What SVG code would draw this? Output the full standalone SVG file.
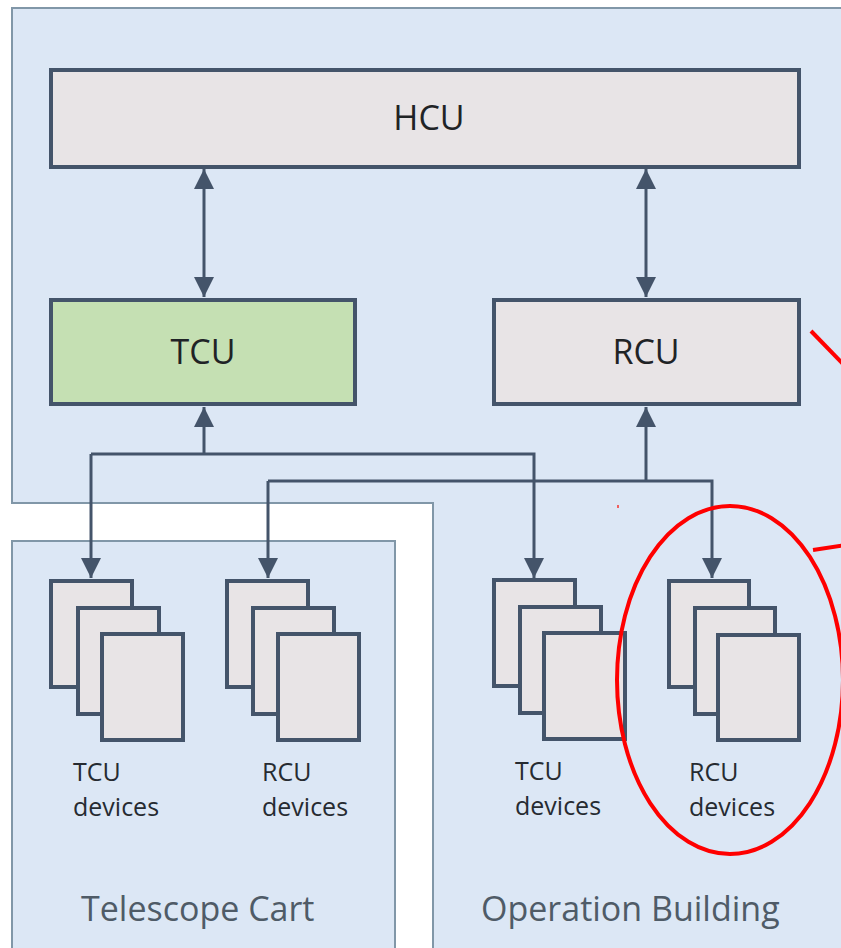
<svg xmlns="http://www.w3.org/2000/svg" width="841" height="948" viewBox="0 0 841 948">
  <defs>
    <style>
      .region { fill: #dce7f5; stroke: #8197a8; stroke-width: 2; }
      .box { fill: #e8e4e6; stroke: #44546a; stroke-width: 4; }
      .green { fill: #c5e0b3; }
      .conn { fill: none; stroke: #44546a; stroke-width: 3; }
      .label { font-family: "Open Sans", "Noto Sans", sans-serif; fill: #1f2326; }
      .node-title { font-size: 34px; text-anchor: middle; }
      .dev { font-size: 25px; fill: #262b31; }
      .area { font-family: "Open Sans", "Noto Sans", sans-serif; font-size: 34px; fill: #4f5b67; }
      .red { fill: none; stroke: #ff0000; stroke-width: 4; }
    </style>
    <marker id="arrow" viewBox="0 0 20 20" refX="20" refY="10" markerWidth="20" markerHeight="20" markerUnits="userSpaceOnUse" orient="auto-start-reverse">
      <path d="M0,0 L20,10 L0,20 Z" fill="#44546a"/>
    </marker>
  </defs>

  <rect x="0" y="0" width="841" height="948" fill="#ffffff"/>

  <g id="regions">
    <path class="region" d="M12,8 H852 V960 H433 V503 H12 Z"/>
    <rect class="region" x="12" y="541" width="383" height="420"/>
    <text class="area" x="81" y="921">Telescope Cart</text>
    <text class="area" x="481" y="921">Operation Building</text>
  </g>

  <g id="connectors">
    <path class="conn" d="M204,169 V297" marker-start="url(#arrow)" marker-end="url(#arrow)"/>
    <path class="conn" d="M646,169 V297" marker-start="url(#arrow)" marker-end="url(#arrow)"/>
    <path class="conn" d="M204,454 V407" marker-end="url(#arrow)"/>
    <path class="conn" d="M91,454 H534 V578"  marker-end="url(#arrow)"/>
    <path class="conn" d="M91,454 V578" marker-end="url(#arrow)"/>
    <path class="conn" d="M646,481 V407" marker-end="url(#arrow)"/>
    <path class="conn" d="M268,481 H712 V578" marker-end="url(#arrow)"/>
    <path class="conn" d="M268,481 V578" marker-end="url(#arrow)"/>
  </g>

  <g id="HCU">
    <rect class="box" x="51" y="70" width="748" height="97"/>
    <text class="label node-title" x="429" y="130">HCU</text>
  </g>
  <g id="TCU">
    <rect class="box green" x="51" y="300" width="304" height="104"/>
    <text class="label node-title" x="203" y="364">TCU</text>
  </g>
  <g id="RCU">
    <rect class="box" x="494" y="300" width="305" height="104"/>
    <text class="label node-title" x="646" y="364">RCU</text>
  </g>

  <g id="cart-tcu-devices">
    <rect class="box" x="51" y="581" width="81" height="106"/>
    <rect class="box" x="78" y="608" width="81" height="106"/>
    <rect class="box" x="102" y="634" width="81" height="106"/>
    <text class="label dev" x="73" y="781">TCU</text>
    <text class="label dev" x="73" y="816">devices</text>
  </g>
  <g id="cart-rcu-devices">
    <rect class="box" x="227" y="581" width="81" height="106"/>
    <rect class="box" x="253" y="608" width="81" height="106"/>
    <rect class="box" x="278" y="634" width="81" height="106"/>
    <text class="label dev" x="262" y="781">RCU</text>
    <text class="label dev" x="262" y="816">devices</text>
  </g>
  <g id="building-tcu-devices">
    <rect class="box" x="494" y="580" width="81" height="106"/>
    <rect class="box" x="520" y="607" width="81" height="106"/>
    <rect class="box" x="544" y="633" width="81" height="106"/>
    <text class="label dev" x="515" y="780">TCU</text>
    <text class="label dev" x="515" y="815">devices</text>
  </g>
  <g id="building-rcu-devices">
    <rect class="box" x="669" y="581" width="80" height="106"/>
    <rect class="box" x="695" y="608" width="80" height="106"/>
    <rect class="box" x="718" y="635" width="81" height="105"/>
    <text class="label dev" x="689" y="781">RCU</text>
    <text class="label dev" x="689" y="816">devices</text>
  </g>

  <g id="annotation">
    <ellipse class="red" cx="730" cy="680" rx="113" ry="174"/>
    <line class="red" x1="811" y1="331" x2="846" y2="367"/>
    <line class="red" x1="813" y1="550" x2="846" y2="545"/>
    <rect x="617" y="505" width="2" height="3" fill="#f06060"/>
  </g>
</svg>
